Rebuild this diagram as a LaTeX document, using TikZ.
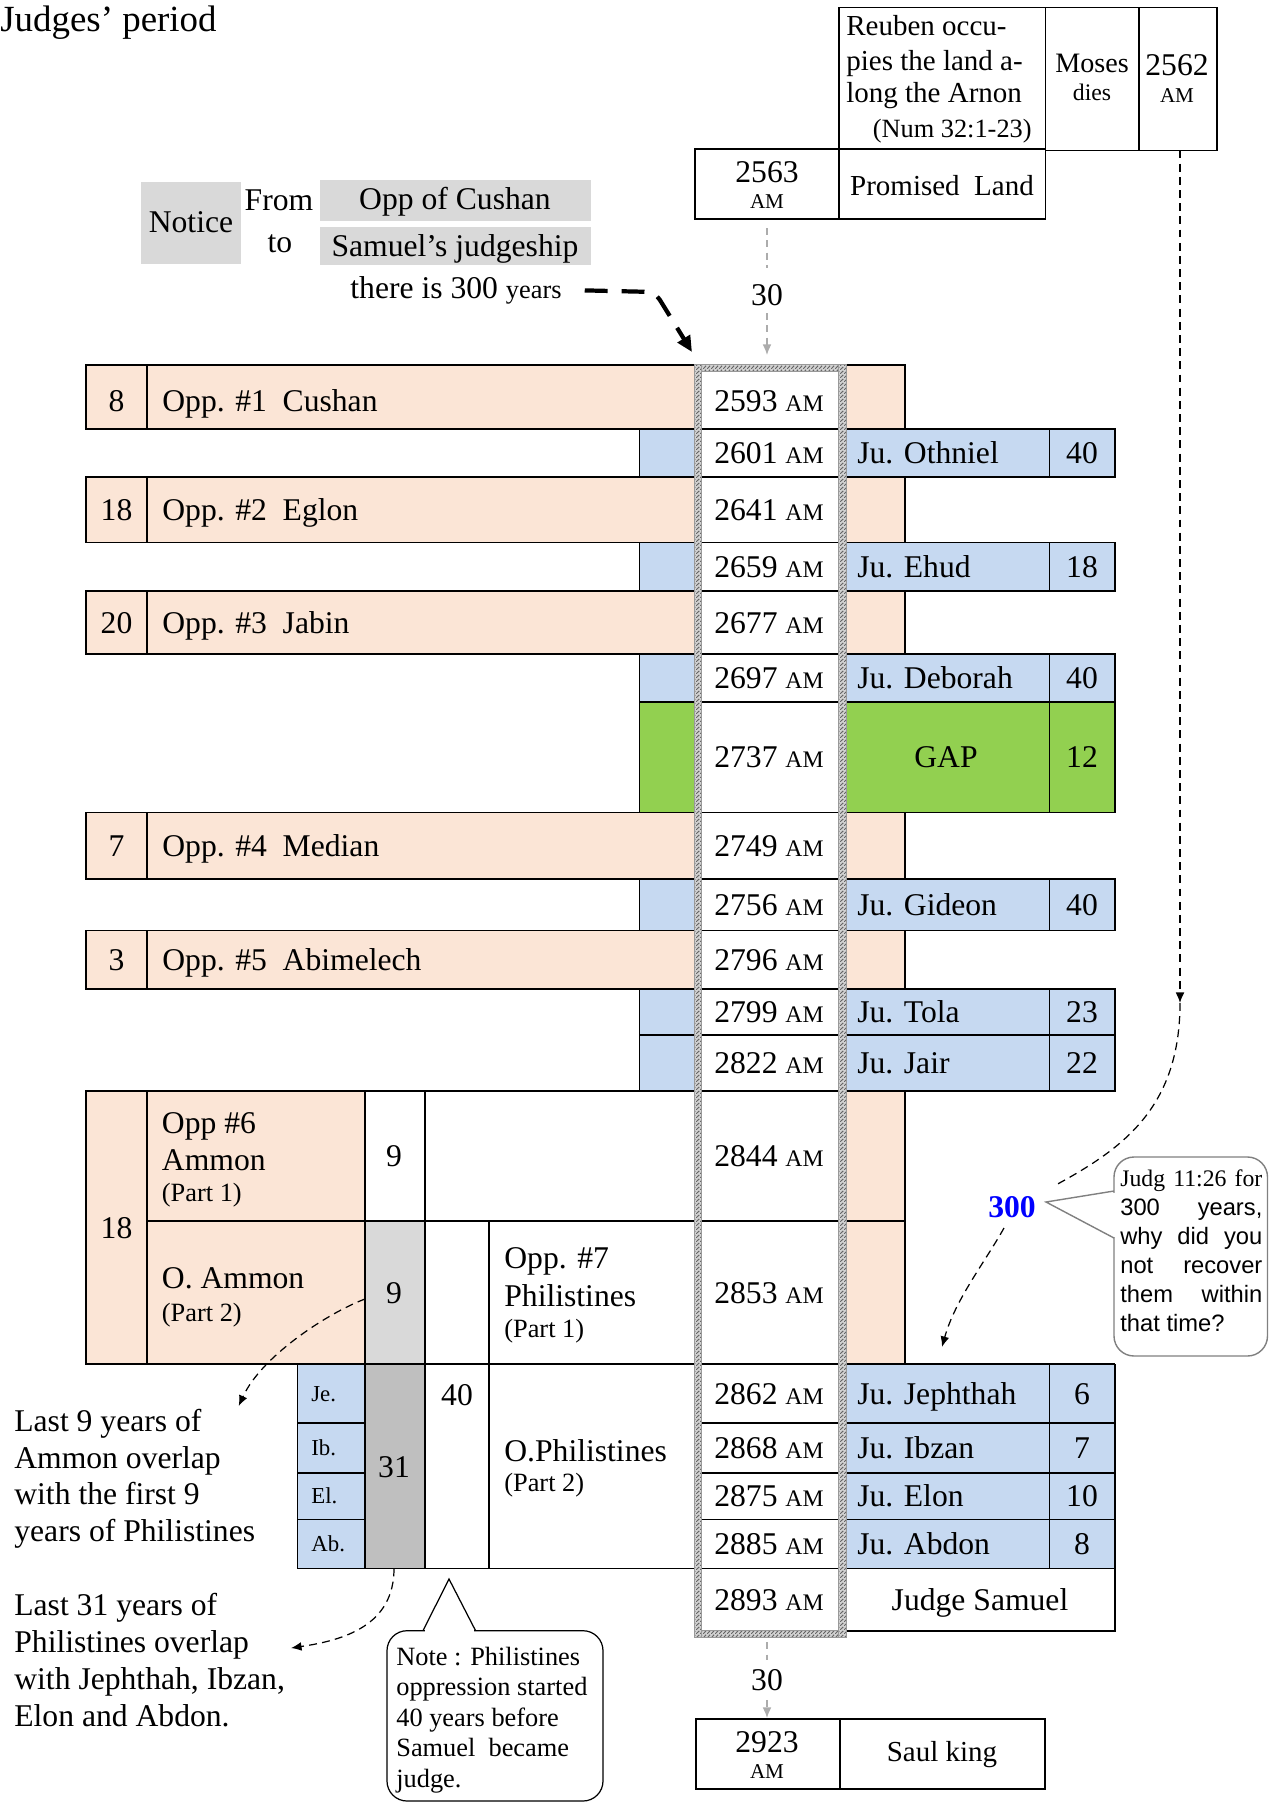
\documentclass[tikz,border=0pt]{standalone}
\usepackage{fontspec}
\setmainfont{Liberation Serif}
\newfontfamily\arialfont{Liberation Sans}
\usetikzlibrary{patterns.meta,arrows.meta}

\definecolor{oppcol}{HTML}{FBE5D6}
\definecolor{judcol}{HTML}{C6D9F1}
\definecolor{gapcol}{HTML}{92D050}
\definecolor{ltgray}{HTML}{D9D9D9}
\definecolor{dkgray}{HTML}{BFBFBF}

\newcommand{\fsz}[1]{\fontsize{#1}{#1}\selectfont}
\newcommand{\smAM}{{\fsz{13.5}AM}}

\tikzdeclarepattern{
  name=finehatch,
  type=uncolored,
  bounding box={(0pt,0pt) and (2pt,2pt)},
  tile size={(2pt,2pt)},
  code={\draw[line width=0.6pt] (0pt,0pt) -- (2pt,2pt);}
}

\tikzset{
  txt/.style={inner sep=0pt, text height=12pt, text depth=0pt, font=\fsz{18}},
  sm/.style={inner sep=0pt, text height=8.6pt, text depth=0pt, font=\fsz{13}},
  lbl/.style={inner sep=0pt, font=\fsz{18}},
  cell/.style={line width=1pt},
  hatchbg/.style={fill=gray!35},
  hatch/.style={pattern=finehatch, pattern color=black!60, draw=gray!80, line width=0.3pt},
  grayline/.style={gray!65, line width=0.8pt, dash pattern=on 4pt off 3pt},
  grayarrow/.style={grayline, -{Latex[length=6pt,width=5pt]}},
  dashline/.style={line width=0.7pt, dash pattern=on 4.5pt off 3pt},
  dasharrow/.style={dashline, -{Latex[length=6pt,width=5pt]}},
  bigdash/.style={line width=2.4pt, dash pattern=on 13pt off 8pt, -{Triangle[length=9pt,width=8pt]}}
}

\begin{document}
\begin{tikzpicture}[x=0.2mm,y=-0.2mm]
\useasboundingbox (0,0) rectangle (1270,1803);

% ===== Title =====
\node[lbl, font=\fsz{21}, anchor=base west] (title) at (0,31) {Judges’ period};

% ===== Top boxes =====
\draw[cell] (839.3,7.5) rectangle (1045.5,149);
\draw[cell] (1045.5,7.5) rectangle (1139,150.5);
\draw[cell] (1139,7.5) rectangle (1217,150.5);
\draw[cell] (695,149) rectangle (839.3,219.3);
\draw[cell] (839.3,149) rectangle (1045.5,219.3);

\node[lbl, font=\fsz{16.5}, anchor=base west] (reuben1) at (846,35) {Reuben occu-};
\node[lbl, font=\fsz{16.5}, anchor=base west] (reuben2) at (846,70) {pies the land a-};
\node[lbl, font=\fsz{16.5}, anchor=base west] (reuben3) at (846,102) {long the Arnon};
\node[lbl, font=\fsz{15}, anchor=base east] (reuben4) at (1032,137) {(Num 32:1-23)};
\node[lbl, font=\fsz{16}, anchor=base] (moses) at (1092,72) {Moses};
\node[lbl, font=\fsz{13.5}, anchor=base] (dies) at (1092,100) {dies};
\node[lbl, anchor=base] (y2562) at (1177,75) {2562};
\node[lbl, font=\fsz{12}, anchor=base] (am2562) at (1177,102) {AM};
\node[lbl, anchor=base] (y2563) at (767,182) {2563};
\node[lbl, font=\fsz{12}, anchor=base] (am2563) at (767,208) {AM};
\node[lbl, font=\fsz{16.5}, anchor=base] (promised) at (942,195) {Promised\ \ Land};

% ===== Notice =====
\fill[ltgray] (141,182) rectangle (241,264);
\fill[ltgray] (319.5,180) rectangle (591,221);
\fill[ltgray] (319.5,227.3) rectangle (591,264.7);
\node[lbl, anchor=base] (notice) at (191,232) {Notice};
\node[lbl, anchor=base] (from) at (279,210) {From};
\node[lbl, anchor=base] (to) at (280,252) {to};
\node[lbl, anchor=base] (cushan) at (455,209) {Opp of Cushan};
\node[lbl, anchor=base] (samjud) at (455,256) {Samuel’s judgeship};
\node[lbl, anchor=base] (there) at (456,298) {there is 300 {\fsz{15}years}};

% ===== Oppression rows =====
\foreach \t/\b/\yc/\n/\k/\who in {364.7/429/400.5/8/1/Cushan, 477/542.5/509.8/18/2/Eglon,
    591/654/622.5/20/3/Jabin, 812.5/879/845.8/7/4/Median, 930.5/989/959.8/3/5/Abimelech}{
  \fill[oppcol] (86,\t) rectangle (694,\b) (846,\t) rectangle (905,\b);
  \draw[cell] (86,\t) rectangle (905,\b);
  \draw[cell] (147,\t) -- (147,\b);
  \node[txt] (on\k) at (116.5,\yc) {\n};
  \node[txt, anchor=west] (op\k) at (162,\yc) {Opp. \#\k\ \ \who};
}

% ===== Judges rows =====
\foreach \t/\b/\who/\n in {429/477/Othniel/40, 542.5/591/Ehud/18, 654/702/Deborah/40,
    879/930.5/Gideon/40, 989/1035/Tola/23, 1035/1091/Jair/22}{
  \fill[judcol] (639.5,\t) rectangle (694,\b) (846,\t) rectangle (1115,\b);
  \draw[cell] (639.5,\t) rectangle (1115,\b);
  \draw[cell] (1049.5,\t) -- (1049.5,\b);
  \node[txt, anchor=west] (j\who) at (857,{(\t+\b)/2}) {Ju. \who};
  \node[txt] (n\who) at (1082,{(\t+\b)/2}) {\n};
}

% GAP
\fill[gapcol] (639.5,702) rectangle (694,812.5) (846,702) rectangle (1115,812.5);
\draw[cell] (639.5,702) rectangle (1115,812.5);
\draw[cell] (1049.5,702) -- (1049.5,812.5);
\node[txt] (gap) at (946,757.3) {GAP};
\node[txt] (ngap) at (1082,757.3) {12};

% ===== Ammon / Philistines block =====
\fill[oppcol] (86,1091) rectangle (365,1364);
\fill[oppcol] (846,1091) rectangle (905,1364);
\fill[ltgray] (365,1221) rectangle (424.7,1364);
\fill[judcol] (297.5,1364) rectangle (365,1568.5);
\fill[dkgray] (365,1364) rectangle (424.7,1568.5);
\fill[judcol] (846,1364) rectangle (1115,1568.5);

\draw[cell] (86,1091) rectangle (905,1364);
\draw[cell] (147,1091) -- (147,1364);
\draw[cell] (147,1221) -- (905,1221);
\draw[cell] (365,1091) -- (365,1568.5);
\draw[cell] (424.7,1091) -- (424.7,1568.5);
\draw[cell] (489,1221) -- (489,1568.5);
\draw[cell] (86,1364) -- (1115,1364);
\draw[cell] (297.5,1364) -- (297.5,1568.5) -- (1115,1568.5);
\foreach \y in {1423,1473,1519.5}{
  \draw[cell] (297.5,\y) -- (365,\y);
  \draw[cell] (694,\y) -- (1115,\y);
}
\draw[cell] (1049.5,1364) -- (1049.5,1568.5);
\draw[cell] (1115,1364) -- (1115,1631) -- (846,1631);

\node[txt] (n18) at (116.5,1228) {18};
\node[lbl, anchor=base west] (opsix1) at (161.6,1133) {Opp \#6};
\node[lbl, anchor=base west] (opsix2) at (161.6,1170) {Ammon};
\node[lbl, font=\fsz{15}, anchor=base west] (opsix3) at (161.6,1201) {(Part 1)};
\node[lbl, anchor=base west] (oammon1) at (161.6,1288) {O. Ammon};
\node[lbl, font=\fsz{15}, anchor=base west] (oammon2) at (161.6,1321) {(Part 2)};
\node[txt] (nineA) at (394,1156) {9};
\node[txt] (nineB) at (394,1293) {9};
\node[txt] (forty) at (457,1395) {40};
\node[txt] (thirtyone) at (394,1467) {31};
\node[lbl, anchor=base west] (opseven1) at (504,1268) {Opp. \#7};
\node[lbl, anchor=base west] (opseven2) at (504,1306) {Philistines};
\node[lbl, font=\fsz{15}, anchor=base west] (opseven3) at (504,1337) {(Part 1)};
\node[lbl, anchor=base west] (ophil1) at (504,1461) {O.Philistines};
\node[lbl, font=\fsz{15}, anchor=base west] (ophil2) at (504,1491) {(Part 2)};

\foreach \t/\b/\ab in {1364/1423/Je., 1423/1473/Ib., 1473/1519.5/El., 1519.5/1568.5/Ab.}
  \node[sm, anchor=west] (s\t) at (311,{(\t+\b)/2}) {\ab};

\foreach \t/\b/\who/\n in {1364/1423/Jephthah/6, 1423/1473/Ibzan/7, 1473/1519.5/Elon/10, 1519.5/1568.5/Abdon/8}{
  \node[txt, anchor=west] (j\who) at (857,{(\t+\b)/2}) {Ju. \who};
  \node[txt] (n\who) at (1082,{(\t+\b)/2}) {\n};
}
\node[txt] (samuel) at (980,1600) {Judge Samuel};

% ===== Hatched column =====
\foreach \a/\b/\c/\d in {694/364.7/701.7/1637, 838.3/364.7/846/1637,
    701.7/364.7/838.3/371.7, 701.7/1630.7/838.3/1637}{
  \fill[hatchbg] (\a,\b) rectangle (\c,\d);
  \path[hatch] (\a,\b) rectangle (\c,\d);
}

\foreach \y/\yr in {400.5/2593, 453/2601, 509.8/2641, 566.8/2659, 622.5/2677, 678/2697,
    757.3/2737, 845.8/2749, 904.8/2756, 959.8/2796, 1012/2799, 1063/2822, 1156/2844,
    1292.5/2853, 1393.5/2862, 1448/2868, 1496.3/2875, 1544/2885, 1600/2893}
  \node[txt] (d\yr) at (769,\y) {\yr\ \smAM};

% ===== Saul =====
\draw[cell] (696,1719) rectangle (839.7,1789);
\draw[cell] (839.7,1719) rectangle (1045.3,1789);
\node[lbl, anchor=base] (y2923) at (767,1752.7) {2923};
\node[lbl, font=\fsz{12}, anchor=base] (am2923) at (767,1778) {AM};
\node[lbl, font=\fsz{16.5}, anchor=base] (saul) at (942,1761) {Saul king};

% ===== 30 years arrows =====
\coordinate (top2563) at (767,219.3);
\coordinate (colTop) at (767,355);
\coordinate (colBot) at (767,1637);
\coordinate (saulTop) at (767,1718);
\node[lbl] (thirtyA) at (767,295) {30};
\node[lbl] (thirtyB) at (767,1680) {30};
\draw[grayline, shorten <=5pt, shorten >=9pt] (top2563) -- (thirtyA.north);
\draw[grayarrow, shorten <=4pt] (thirtyA.south) -- (colTop);
\draw[grayline, shorten <=3pt, shorten >=5pt] (colBot) -- (thirtyB.north);
\draw[grayarrow, shorten <=5pt] (thirtyB.south) -- (saulTop);

% ===== 300 years arrow =====
\coordinate (bendT) at (655,292);
\coordinate (tipT) at (692,352);
\draw[bigdash, shorten <=13pt, rounded corners=5pt] (there.east) -- (bendT) -- (tipT);

% ===== Judg 11:26 =====
\coordinate (top2562) at (1180,150.5);
\coordinate (mid2562) at (1180,1003);
\coordinate (to300) at (1054,1186);
\coordinate (from300) at (1004,1228);
\coordinate (atJeph) at (942,1347);
\node[lbl, font=\bfseries\fsz{18}, text=blue] (three) at (1012,1207) {300};
\draw[dasharrow] (top2562) -- (mid2562);
\draw[dashline] (mid2562) .. controls (1180,1110) and (1120,1150) .. (to300);
\draw[dasharrow] (from300) .. controls (985,1262) and (955,1300) .. (atJeph);

\coordinate (tipJudg) at (1046,1202);
\draw[gray, line width=0.8pt, fill=white, rounded corners=4mm] (1114,1157) rectangle (1267.5,1356);
\fill[white] (1111,1192.5) rectangle (1117,1236.5);
\draw[gray, line width=0.8pt] (1114,1191) -- (tipJudg) -- (1114,1238);
\node[inner sep=0pt, text width=28.4mm, align=justify, anchor=north west,
      font=\arialfont\fontsize{13.5}{16.5}\selectfont] (judg) at (1120,1169)
  {{\rmfamily Judg 11:26 for}\linebreak 300 years,\linebreak why did you\linebreak
   not recover\linebreak them within\linebreak that time?};

% ===== Overlap notes =====
\coordinate (fromNine) at (365,1299);
\coordinate (toLast9) at (238.7,1406);
\draw[dasharrow] (fromNine) .. controls (330,1312) and (262,1355) .. (toLast9);
\foreach \l [count=\i] in {Last 9 years of, Ammon overlap, with the first 9, years of Philistines}
  \node[lbl, anchor=base west] (lastnine\i) at (14,{1431.5+36.7*(\i-1)}) {\l};

\coordinate (from31) at (394,1568.5);
\coordinate (toLast31) at (291,1648);
\draw[dasharrow] (from31) .. controls (394,1625) and (345,1640) .. (toLast31);
\foreach \l [count=\i] in {Last 31 years of, Philistines overlap, {with Jephthah, Ibzan,}, Elon and Abdon.}
  \node[lbl, anchor=base west] (lastthirty\i) at (14,{1615+37.2*(\i-1)}) {\l};

% ===== Note =====
\coordinate (tipNote) at (449,1579);
\draw[line width=0.7pt, fill=white, rounded corners=4mm] (387,1630.7) rectangle (603,1801);
\fill[white] (424.5,1628) rectangle (474,1633.5);
\draw[line width=0.7pt] (423,1630.7) -- (tipNote) -- (475.6,1630.7);
\foreach \l [count=\i] in {Note : Philistines, oppression started, 40 years before, Samuel\ \ became, judge.}
  \node[lbl, font=\fsz{15}, anchor=base west] (note\i) at (396,{1665+30.5*(\i-1)}) {\l};

\end{tikzpicture}
\end{document}
